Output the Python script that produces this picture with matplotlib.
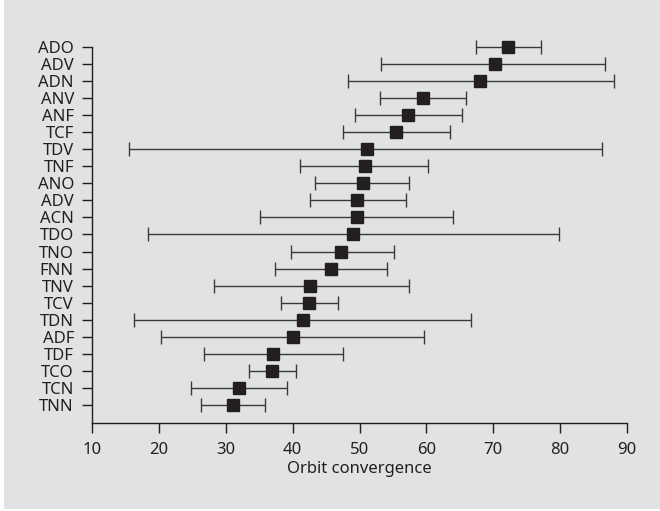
import matplotlib
matplotlib.use("Agg")
import matplotlib.pyplot as plt
import numpy as np
from matplotlib.patches import Rectangle

# rows listed top to bottom
labels = ["ADO", "ADV", "ADN", "ANV", "ANF", "TCF", "TDV", "TNF", "ANO", "ADV",
          "ACN", "TDO", "TNO", "FNN", "TNV", "TCV", "TDN", "ADF", "TDF", "TCO",
          "TCN", "TNN"]
means = [72.2, 70.2, 68.0, 59.5, 57.2, 55.5, 51.1, 50.8, 50.5, 49.7,
         49.6, 49.0, 47.3, 45.8, 42.6, 42.5, 41.5, 40.0, 37.1, 36.9,
         32.0, 31.1]
lower = [67.4, 53.2, 48.3, 53.1, 49.4, 47.6, 15.6, 41.1, 43.3, 42.6,
         35.1, 18.4, 39.8, 37.4, 28.2, 38.3, 16.3, 20.3, 26.8, 33.5,
         24.8, 26.3]
upper = [77.1, 86.7, 88.0, 65.9, 65.4, 63.6, 86.2, 60.3, 57.4, 56.9,
         64.0, 79.8, 55.2, 54.1, 57.4, 46.8, 66.6, 59.7, 47.5, 40.5,
         39.2, 35.8]
xticks = [10, 20, 30, 40, 50, 60, 70, 80, 90]

plt.rcParams["font.family"] = ["Noto Sans", "DejaVu Sans"]

fig = plt.figure(figsize=(6.6, 5.11), dpi=100)
fig.patch.set_facecolor("white")
fig.patches.append(Rectangle((4 / 660, 2 / 511), 1.0, 1.0, transform=fig.transFigure,
                             facecolor="#e1e2e4", edgecolor="none", zorder=-10))

ax = fig.add_axes([92 / 660, 1 - 423 / 511, (627 - 92) / 660, (423 - 47) / 511])
ax.set_facecolor("none")

n = len(labels)
ypos = np.arange(n)[::-1]
means = np.array(means)
lower = np.array(lower)
upper = np.array(upper)
xerr = np.vstack([means - lower, upper - means])

ax.errorbar(means, ypos, xerr=xerr, fmt="s", color="#231f20", ecolor="#3a3a3a",
            elinewidth=1.0, capsize=4.8, capthick=1.0, markersize=8,
            markeredgecolor="#231f20", clip_on=False, zorder=3)

ax.set_xlim(10, 90)
ax.set_ylim(-1.06, n - 1)
ax.set_xticks(xticks)
ax.set_yticks(ypos)
ax.set_yticklabels(labels)
ax.spines["top"].set_visible(False)
ax.spines["right"].set_visible(False)
for s in ("left", "bottom"):
    ax.spines[s].set_color("#231f20")
    ax.spines[s].set_linewidth(1.0)
ax.tick_params(axis="both", length=7, width=1.0, color="#231f20",
               labelsize=12, labelcolor="#231f20")
ax.tick_params(axis="y", pad=6)
ax.tick_params(axis="x", pad=7)
ax.set_xlabel("Orbit convergence", fontsize=12, color="#231f20", labelpad=2)

fig.savefig("out.png", dpi=100)
